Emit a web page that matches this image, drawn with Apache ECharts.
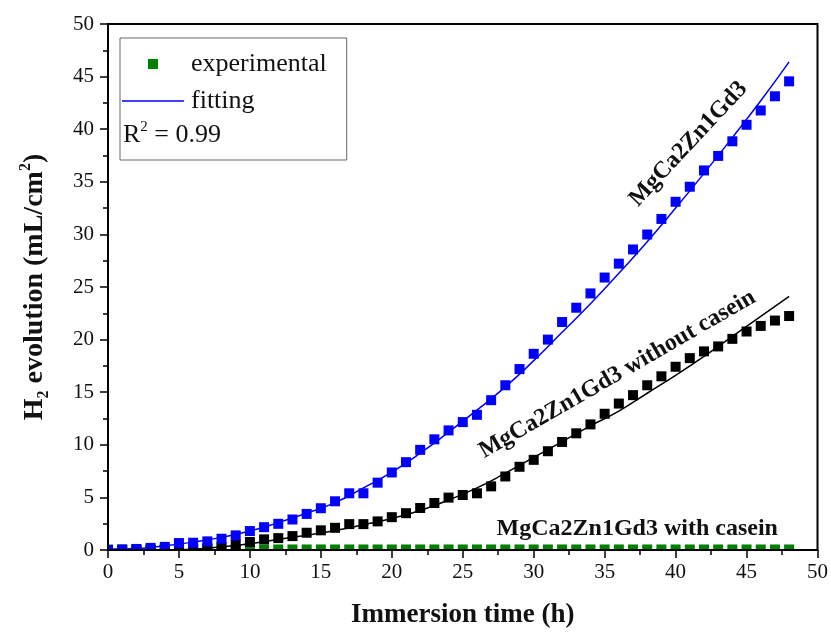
<!DOCTYPE html>
<html><head><meta charset="utf-8">
<script src="https://cdn.jsdelivr.net/npm/echarts/dist/echarts.min.js"></script>
<style>html,body{margin:0;padding:0;background:#fff}#c{width:831px;height:634px}</style>
</head><body><div id="c"></div>
<script>
// ---- data ----
const hours = [0,1,2,3,4,5,6,7,8,9,10,11,12,13,14,15,16,17,18,19,20,21,22,23,24,25,26,27,28,29,30,31,32,33,34,35,36,37,38,39,40,41,42,43,44,45,46,47,48];
const blueExp = [0.0,0.05,0.1,0.2,0.3, 0.66,0.69,0.82,1.07,1.39, 1.8,2.17,2.49,2.9,3.43, 3.97,4.63,5.39,5.39,6.4, 7.37,8.35,9.52,10.52,11.37, 12.16,12.85,14.24,15.66,17.2, 18.65,20.0,21.67,23.03,24.39, 25.9,27.22,28.57,29.99,31.47, 33.1,34.53,36.08,37.46,38.85, 40.42,41.78,43.13,44.55];
const blackExp = [0,0,0,0,0.02, 0.05,0.1,0.15,0.28,0.5, 0.76,1.01,1.13,1.32,1.64, 1.87,2.11,2.46,2.46,2.72, 3.12,3.5,3.99,4.47,4.98, 5.23,5.39,6.05,6.99,7.91, 8.57,9.39,10.27,11.09,11.94, 12.95,13.92,14.72,15.66,16.51, 17.42,18.24,18.88,19.35,20.07, 20.77,21.3,21.81,22.24];
const greenExp = [0.05,0.05,0.05,0.05,0.05, 0.05,0.05,0.05,0.05,0.05, 0.05,0.05,0.05,0.05,0.05, 0.05,0.05,0.05,0.05,0.05, 0.05,0.05,0.05,0.05,0.05, 0.05,0.05,0.05,0.05,0.05, 0.05,0.05,0.05,0.05,0.05, 0.05,0.05,0.05,0.05,0.05, 0.05,0.05,0.05,0.05,0.05, 0.05,0.05,0.05,0.05];
const blueFitHours = [0,2,4,6,8,10,12,14,16,18,20,22,24,26,28,30,32,34,36,38,40,42,44,46,48];
const blueFit = [0.1,0.15,0.4,0.75,1.2,1.8,2.6,3.5,4.5,5.9,7.4,9.2,11.2,13.3,15.5,18.0,20.7,23.4,26.3,29.3,32.5,35.8,39.2,42.7,46.4];
const blackFitHours = [4,6,8,10,12,14,16,18,20,22,24,26,28,30,32,34,36,38,40,42,44,46,48];
const blackFit = [0,0.08,0.3,0.6,1.0,1.4,1.85,2.4,3.0,3.75,4.75,5.9,7.3,8.8,10.3,11.8,13.2,14.9,16.6,18.4,20.3,22.2,24.1];
const legendNames = ['experimental','fitting'];
const annotations = [
  {text:'MgCa2Zn1Gd3', at:[40.9,38.6], angle:47},
  {text:'MgCa2Zn1Gd3 without casein', at:[35.9,16.7], angle:30},
  {text:'MgCa2Zn1Gd3 with casein', at:[37.3,2.05], angle:0}
];

// ---- chart ----
const FONT = '"Liberation Serif","Times New Roman",serif';
const pair = (xs, ys) => xs.map((x, i) => [x, ys[i]]);
const chart = echarts.init(document.getElementById('c'));

const axisCommon = {
  type:'value', min:0, max:50, interval:5, z:100,
  axisLine:{onZero:false, lineStyle:{color:'#000', width:2}},
  axisTick:{inside:false, length:8, lineStyle:{color:'#000', width:1.5}},
  minorTick:{show:true, splitNumber:2, length:5, lineStyle:{color:'#000', width:1.5}},
  splitLine:{show:false},
  axisLabel:{color:'#111', fontFamily:FONT, fontSize:21}
};

const option = {
  animation:false,
  backgroundColor:'#fff',
  grid:{left:108, right:12, top:24, bottom:81, show:true, borderColor:'#000', borderWidth:2, backgroundColor:'transparent'},
  xAxis: Object.assign({}, axisCommon, {
    axisLabel: Object.assign({}, axisCommon.axisLabel, {margin:12}),
    name:'Immersion time (h)', nameLocation:'middle', nameGap:52,
    nameTextStyle:{fontFamily:FONT, fontWeight:'bold', fontSize:27, color:'#111'}
  }),
  yAxis: Object.assign({}, axisCommon, {
    axisLabel: Object.assign({}, axisCommon.axisLabel, {margin:14}),
    name:'{m|H}{sub|2}{m| evolution (mL/cm}{sup|2}{m|)}', nameLocation:'middle', nameGap:56,
    nameTextStyle:{fontFamily:FONT, fontWeight:'bold', fontSize:28, color:'#111',
      rich:{
        m:{fontFamily:FONT, fontWeight:'bold', fontSize:28, lineHeight:34, color:'#111'},
        sub:{fontFamily:FONT, fontWeight:'bold', fontSize:16, lineHeight:14, verticalAlign:'bottom', color:'#111'},
        sup:{fontFamily:FONT, fontWeight:'bold', fontSize:16, lineHeight:14, verticalAlign:'top', color:'#111'}
      }}
  }),
  legend:{
    orient:'vertical', left:120, top:38, padding:[13,20,46,2],
    itemWidth:62, itemHeight:10, itemGap:11, selectedMode:false,
    borderColor:'#666', borderWidth:1, backgroundColor:'#fff',
    textStyle:{fontFamily:FONT, fontSize:26, color:'#111', lineHeight:22, padding:[0,0,0,2]},
    data:[
      {name:legendNames[0], icon:'path://M0,0L10,0L10,10L0,10Z'},
      {name:legendNames[1], icon:'path://M0,0L62,0L62,1.5L0,1.5Z'}
    ]
  },
  series:[
    {name:legendNames[0], type:'scatter', symbol:'rect', symbolSize:10, itemStyle:{color:'#008000', opacity:1}, data:pair(hours, greenExp), z:2},
    {name:'MgCa2Zn1Gd3 without casein (exp)', type:'scatter', symbol:'rect', symbolSize:10, itemStyle:{color:'#000', opacity:1}, data:pair(hours, blackExp), z:3},
    {name:'MgCa2Zn1Gd3 (exp)', type:'scatter', symbol:'rect', symbolSize:10, itemStyle:{color:'#0000ff', opacity:1}, data:pair(hours, blueExp), z:4},
    {name:'MgCa2Zn1Gd3 without casein (fit)', type:'line', smooth:true, symbol:'none', showSymbol:false, lineStyle:{color:'#000', width:1.5}, itemStyle:{color:'#000'}, data:pair(blackFitHours, blackFit), z:5},
    {name:legendNames[1], type:'line', smooth:true, symbol:'none', showSymbol:false, lineStyle:{color:'#0000ff', width:1.5}, itemStyle:{color:'#0000ff'}, data:pair(blueFitHours, blueFit), z:6}
  ]
};
chart.setOption(option);

// masks that clip marks at the axes, annotations and R² text
const o = chart.convertToPixel({gridIndex:0}, [0,0]);
const graphics = [
  {type:'rect', z:50, silent:true, shape:{x:90, y:o[1]+1, width:760, height:8}, style:{fill:'#fff'}},
  {type:'rect', z:50, silent:true, shape:{x:90, y:10, width:o[0]-1-90, height:o[1]}, style:{fill:'#fff'}},
  {type:'text', z:60, x:123, y:135, style:{
    text:'{m|R}{sup|2}{m| = 0.99}', fill:'#111', align:'left', verticalAlign:'middle',
    rich:{
      m:{fontFamily:FONT, fontSize:26, lineHeight:30, fill:'#111'},
      sup:{fontFamily:FONT, fontSize:15, lineHeight:14, verticalAlign:'top', fill:'#111'}
    }}}
];
annotations.forEach(a => {
  const p = chart.convertToPixel({gridIndex:0}, a.at);
  graphics.push({type:'text', z:60, x:p[0], y:p[1], rotation:a.angle*Math.PI/180, style:{
    text:a.text, fill:'#111', align:'center', verticalAlign:'middle',
    fontFamily:FONT, fontWeight:'bold', fontSize:24}});
});
chart.setOption({graphic:graphics});
</script></body></html>
